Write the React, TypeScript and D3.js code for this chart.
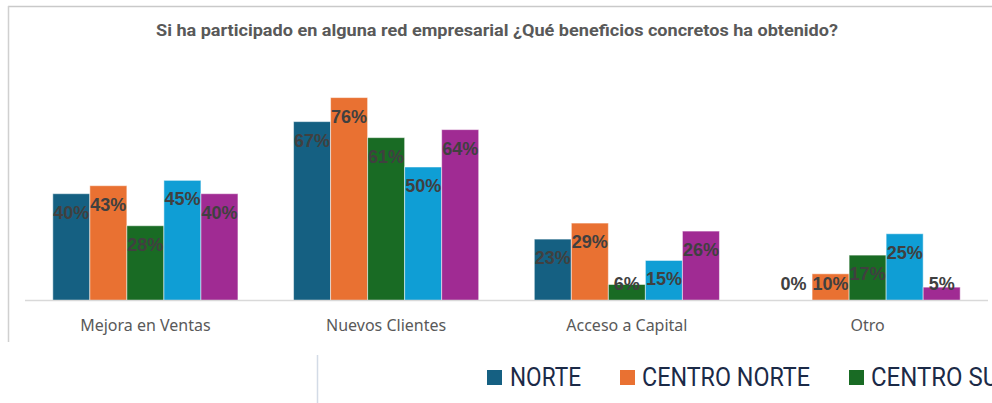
import React from 'react';
import * as d3 from 'd3';

const categories = ['Mejora en Ventas', 'Nuevos Clientes', 'Acceso a Capital', 'Otro'];
const seriesNames = ['NORTE', 'CENTRO NORTE', 'CENTRO SUR', 'CENTRO SUR 2', 'SUR'];
const norte = [0.4, 0.67, 0.23, 0];
const centroNorte = [0.43, 0.76, 0.29, 0.1];
const centroSur = [0.28, 0.61, 0.06, 0.17];
const centro = [0.45, 0.5, 0.15, 0.25];
const sur = [0.4, 0.64, 0.26, 0.05];
const legendNames = ['NORTE', 'CENTRO NORTE', 'CENTRO SUR'];

const seriesValues = [norte, centroNorte, centroSur, centro, sur];
const colors = ['#156082', '#E97132', '#196B24', '#0F9ED5', '#A02B93'];

const W = 992;
const H = 403;

export default function App() {
  const baseline = 300.5;
  const x0 = d3.scaleBand<string>().domain(categories).range([25, 988]).paddingInner(0.231).paddingOuter(0.1155);
  const x1 = d3.scaleBand<string>().domain(seriesNames).range([0, x0.bandwidth()]);
  const y = d3.scaleLinear().domain([0, 1]).range([baseline, baseline - 267]);
  const fmt = d3.format('.0%');

  // legend positions (square x, text x, text width) - legend runs past the right edge, as in the original
  const legend = [
    { sq: 487, tx: 510, w: 71 },
    { sq: 620, tx: 642, w: 168 },
    { sq: 849, tx: 871, w: 142 },
  ];

  return (
    <svg width={W} height={H} style={{ position: 'absolute', left: 0, top: 0, background: '#fff' }}>
      {/* frame */}
      <line x1={8} x2={W} y1={6.5} y2={6.5} stroke="#c9c9c9" strokeWidth={1.5} />
      <line x1={8.5} x2={8.5} y1={6} y2={342} stroke="#d0d0d0" strokeWidth={1.5} />
      <line x1={317.5} x2={317.5} y1={355} y2={H} stroke="#d3dbe6" strokeWidth={1.5} />

      <text
        x={497}
        y={36}
        textAnchor="middle"
        fontFamily="'Liberation Sans Narrow', 'Roboto', 'Liberation Sans', sans-serif"
        fontWeight="bold"
        fontSize={17}
        fill="#595959"
        textLength={682}
        lengthAdjust="spacingAndGlyphs"
      >
        Si ha participado en alguna red empresarial ¿Qué beneficios concretos ha obtenido?
      </text>

      {categories.map((c, ci) => (
        <g key={c} transform={`translate(${x0(c)},0)`}>
          {seriesValues.map((vals, si) => {
            const v = vals[ci];
            const bx = x1(seriesNames[si]) as number;
            const top = y(v);
            const ly = Math.min(top + 18.5, 284);
            return (
              <g key={si}>
                {v > 0 && (
                  <rect
                    x={bx}
                    y={top}
                    width={x1.bandwidth()}
                    height={baseline - top}
                    fill={colors[si]}
                    stroke="#ffffff"
                    strokeOpacity={0.5}
                    strokeWidth={1}
                  />
                )}
                <text
                  x={bx + x1.bandwidth() / 2}
                  y={ly}
                  dy="0.36em"
                  textAnchor="middle"
                  fontFamily="'Liberation Sans', Arial, sans-serif"
                  fontWeight="bold"
                  fontSize={18}
                  fill="#404040"
                >
                  {fmt(v)}
                </text>
              </g>
            );
          })}
          <text
            x={x0.bandwidth() / 2}
            y={331}
            textAnchor="middle"
            fontFamily="'Noto Sans', 'Open Sans', sans-serif"
            fontSize={16}
            fill="#595959"
          >
            {c}
          </text>
        </g>
      ))}

      <line x1={25} x2={988} y1={baseline} y2={baseline} stroke="#d9d9d9" strokeWidth={1.5} />

      {legendNames.map((n, i) => (
        <g key={n}>
          <rect x={legend[i].sq} y={370} width={15} height={15} fill={colors[i]} />
          <text
            x={legend[i].tx}
            y={386}
            fontFamily="'Liberation Sans Narrow', 'Roboto', 'Liberation Sans', sans-serif"
            fontSize={25}
            fill="#1b2a47"
            textLength={legend[i].w}
            lengthAdjust="spacingAndGlyphs"
          >
            {n}
          </text>
        </g>
      ))}
    </svg>
  );
}
